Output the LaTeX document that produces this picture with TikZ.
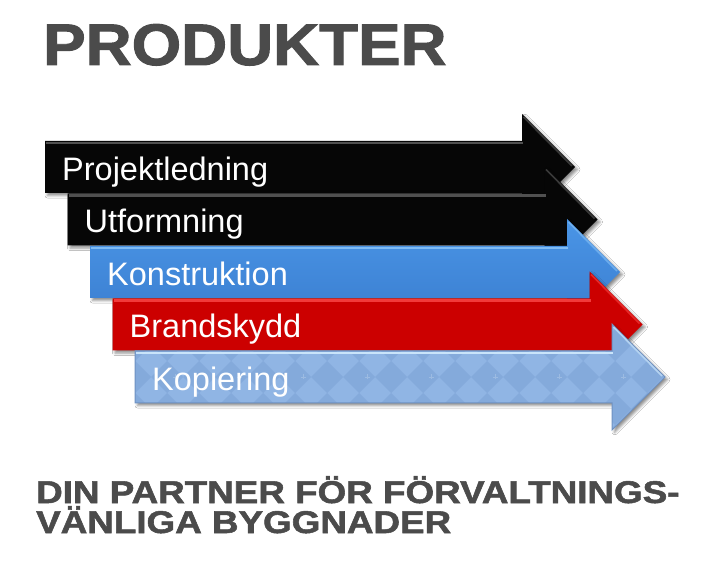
\documentclass[tikz,border=0pt]{standalone}
\usepackage{fontspec}
\setmainfont{Liberation Sans}
\newfontfamily\heavyfont{Liberation Sans Bold}[FakeBold=1.6]
\usetikzlibrary{shadows.blur}
\definecolor{titlegrey}{HTML}{4B4B4B}
\definecolor{arrowblack}{HTML}{060606}
\definecolor{blacktop}{HTML}{505050}
\definecolor{bluetop}{HTML}{4A95E6}
\definecolor{bluebot}{HTML}{3A7DCF}
\definecolor{bluehl}{HTML}{7EBBF4}
\definecolor{redmain}{HTML}{CC0000}
\definecolor{redhl}{HTML}{F23A3A}
\definecolor{lbmain}{HTML}{90B5E4}
\definecolor{lbdark}{HTML}{84AADB}
\definecolor{lbhl}{HTML}{C9E4FA}
\definecolor{lbedge}{HTML}{6E91C2}
% arrow outline: #1 = left x, #2 = top y, #3 = path options
\newcommand\prodarrow[3]{%
  \path[#3] (#1,#2) -- ({#1+477},#2) -- ({#1+477},{#2-27}) -- ({#1+530},{#2+26})
    -- ({#1+477},{#2+79}) -- ({#1+477},{#2+52}) -- (#1,{#2+52}) -- cycle;}
% top highlight of the body: #1 = left x, #2 = top y, #3 = colour
\newcommand\prodhl[3]{%
  \draw[line width=2.5pt,#3] ({#1+1},{#2+2}) -- ({#1+478},{#2+2});
  \draw[line width=1.6pt,#3,opacity=0.7] ({#1+478.5},{#2-24}) -- ({#1+527},{#2+25});}
\tikzset{
  arrowshadow/.style={blur shadow={shadow xshift=2.5pt, shadow yshift=-2.5pt,
      shadow blur radius=2.5pt, shadow opacity=45}},
  blackarrow/.style={arrowshadow, fill=arrowblack},
  bluearrow/.style={arrowshadow, top color=bluetop, bottom color=bluebot},
  redarrow/.style={arrowshadow, fill=redmain},
  lbarrow/.style={arrowshadow, fill=lbmain},
  lbline/.style={draw=lbedge, line width=1pt},
  arrowlabel/.style={text=white, font=\fontsize{32.5}{39}\selectfont,
      anchor=base west, inner sep=0pt},
  titletext/.style={text=titlegrey, inner sep=0pt, anchor=base west,
      font=\heavyfont\fontsize{58.7}{60}\selectfont},
  subtext/.style={text=titlegrey, inner sep=0pt, anchor=base west,
      font=\heavyfont\fontsize{31.4}{30}\selectfont},
}
\begin{document}
\begin{tikzpicture}[x=1pt,y=-1pt]
\useasboundingbox (0,0) rectangle (705,580);
\fill[white] (0,0) rectangle (705,580);

% title
\node[titletext] (title) at (43,65) {\scalebox{1.085}[1]{PRODUKTER}};

% arrow 1
\prodarrow{45}{141}{blackarrow}
\prodhl{45}{141}{blacktop}
\node[arrowlabel] (a1) at (62,180.5) {Projektledning};

% arrow 2
\prodarrow{67.5}{193.5}{blackarrow}
\prodhl{67.5}{193.5}{blacktop}
\node[arrowlabel] (a2) at (84.5,233) {Utformning};

% arrow 3
\prodarrow{90}{246}{bluearrow}
\prodhl{90}{246}{bluehl}
\node[arrowlabel] (a3) at (107,285.5) {Konstruktion};

% arrow 4
\prodarrow{112.5}{298.5}{redarrow}
\prodhl{112.5}{298.5}{redhl}
\node[arrowlabel] (a4) at (129.5,338) {Brandskydd};

% arrow 5 (patterned)
\prodarrow{135}{351}{lbarrow}
\begin{scope}
  \prodarrow{135}{351}{clip}
  \foreach \i in {0,...,17} {
    \foreach \j in {-2,...,2} {
      \fill[lbdark] ({135+32*\i-16},{377+32*\j}) -- ({135+32*\i},{377+32*\j-16})
        -- ({135+32*\i+16},{377+32*\j}) -- ({135+32*\i},{377+32*\j+16}) -- cycle;
    }
  }
  \foreach \i in {0,...,8} {
    \draw[white, opacity=0.2, line width=0.5pt]
      ({135+40+64*\i-2.5},377) -- ({135+40+64*\i+2.5},377)
      ({135+40+64*\i},374.5) -- ({135+40+64*\i},379.5);
  }
\end{scope}
\prodarrow{135}{351}{lbline}
\prodhl{135}{351}{lbhl}
\node[arrowlabel] (a5) at (152,390.5) {Kopiering};

% bottom text
\node[subtext] (sub1) at (36,503) {\scalebox{1.172}[1]{DIN PARTNER FÖR FÖRVALTNINGS-}};
\node[subtext] (sub2) at (36,533) {\scalebox{1.172}[1]{VÄNLIGA BYGGNADER}};
\end{tikzpicture}
\end{document}
